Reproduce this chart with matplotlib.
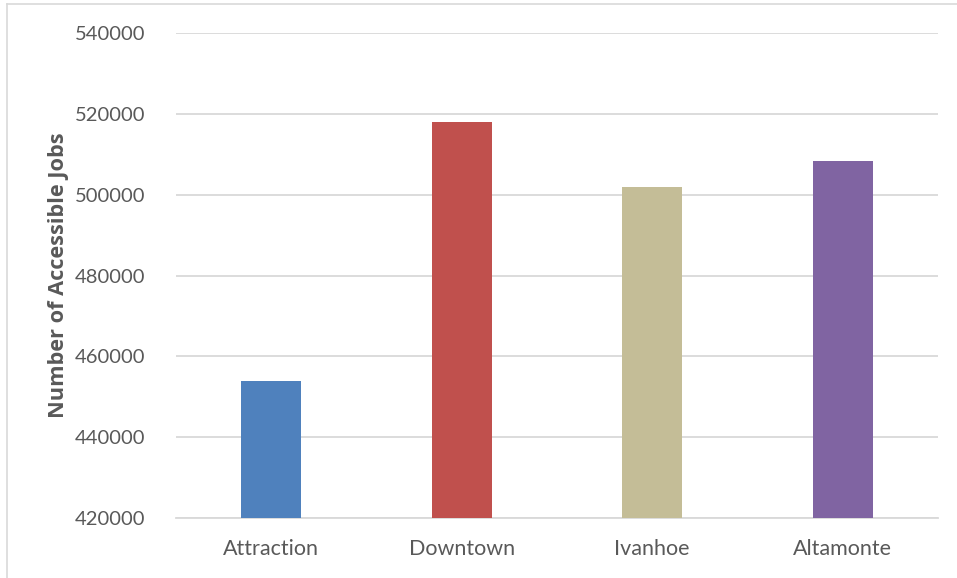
import matplotlib
matplotlib.use("Agg")
import matplotlib.pyplot as plt
from matplotlib.lines import Line2D

categories = ["Attraction", "Downtown", "Ivanhoe", "Altamonte"]
values = [454000, 518000, 502000, 508300]
colors = ["#4F81BD", "#C0504D", "#C4BD97", "#8064A2"]
yticks = [420000, 440000, 460000, 480000, 500000, 520000, 540000]

plt.rcParams['font.family'] = ['Lato', 'DejaVu Sans']

fig = plt.figure(figsize=(9.57, 5.78), dpi=100)
ax = fig.add_axes([0.1839, 0.1038, 0.7962, 0.8391])

x = range(len(categories))
ax.bar(x, values, width=0.315, color=colors, zorder=3)
ax.set_xlim(-0.5, len(categories) - 0.5)
ax.set_ylim(420000, 540000)
ax.set_yticks(yticks)
ax.set_yticklabels([str(t) for t in yticks])
ax.set_xticks(list(x))
ax.set_xticklabels(categories)

ax.grid(axis='y', color='#D9D9D9', linewidth=1.3, zorder=0)
for s in ['top', 'right', 'left']:
    ax.spines[s].set_visible(False)
ax.spines['bottom'].set_color('#D9D9D9')
ax.spines['bottom'].set_linewidth(1.3)
ax.tick_params(axis='both', length=0, colors='#595959')
ax.tick_params(axis='y', pad=22, labelsize=14.5)
ax.tick_params(axis='x', pad=15, labelsize=15.5)

ax.set_ylabel("Number of Accessible Jobs", fontsize=15.7, fontweight='bold',
              color='#595959', labelpad=4,
              family=['Open Sans', 'DejaVu Sans'])

# outer chart border (top and left visible)
fig.add_artist(Line2D([7/957, 1.0], [1 - 4/578, 1 - 4/578], color='#D9D9D9', linewidth=1.2))
fig.add_artist(Line2D([7/957, 7/957], [0.0, 1 - 4/578], color='#D9D9D9', linewidth=1.2))

fig.savefig("out.png", dpi=100, facecolor='white')
